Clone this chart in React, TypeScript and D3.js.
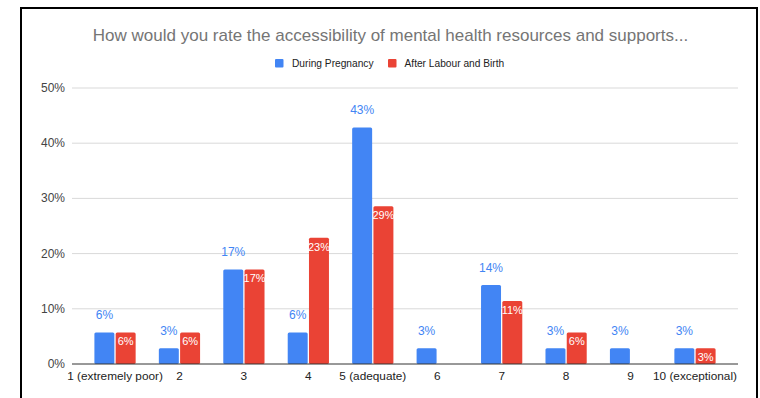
import React from "react";
import * as d3 from "d3";

// Survey ratings 1–10, share of respondents (n = 35)
const categories = [
  "1 (extremely poor)", "2", "3", "4", "5 (adequate)",
  "6", "7", "8", "9", "10 (exceptional)",
];
const duringPregnancy = [5.71, 2.86, 17.14, 5.71, 42.86, 2.86, 14.29, 2.86, 2.86, 2.86];
const afterBirth = [5.71, 5.71, 17.14, 22.86, 28.57, 0, 11.43, 5.71, 0, 2.86];
const seriesNames = ["During Pregnancy", "After Labour and Birth"];
const seriesColors = ["#4285f4", "#ea4335"];
const yTicks = [0, 10, 20, 30, 40, 50];

const W = 760;
const H = 398;
const FONT = "Arial, 'Liberation Sans', Helvetica, sans-serif";

export default function App() {
  const plot = { left: 72, right: 738, top: 88, bottom: 364 };
  const y = d3.scaleLinear().domain([0, 50]).range([plot.bottom, plot.top]);
  const x = d3
    .scaleBand<string>()
    .domain(categories)
    .range([plot.left + 10.8, plot.right - 10.8])
    .paddingInner(0.36)
    .paddingOuter(0.18);
  const inner = d3
    .scaleBand<number>()
    .domain([0, 1])
    .range([0, x.bandwidth()])
    .paddingInner(0.06);
  const fmt = (v: number) => d3.format(".0f")(v) + "%";
  const series = [duringPregnancy, afterBirth];

  return (
    <svg
      width={W}
      height={H}
      style={{ position: "absolute", left: 0, top: 0, background: "#fff" }}
      fontFamily={FONT}
    >
      {/* outer frame */}
      <rect x={21} y={8} width={736} height={H} fill="#fff" stroke="#000" strokeWidth={2} />

      <text x={390.5} y={41} textAnchor="middle" fontSize={17} fill="#757575">
        How would you rate the accessibility of mental health resources and supports...
      </text>

      {/* legend */}
      <g fontSize={10.2} fill="#222">
        <rect x={275} y={59} width={8.5} height={8.5} rx={1} fill={seriesColors[0]} />
        <text x={292} y={67}>{seriesNames[0]}</text>
        <rect x={388} y={59} width={8.5} height={8.5} rx={1} fill={seriesColors[1]} />
        <text x={404.5} y={67}>{seriesNames[1]}</text>
      </g>

      {/* gridlines and y ticks */}
      {yTicks.map((t) => (
        <g key={t}>
          {t > 0 && (
            <line x1={plot.left} x2={plot.right} y1={y(t)} y2={y(t)} stroke="#d9d9d9" strokeWidth={1} />
          )}
          <text x={65} y={y(t) + 4} textAnchor="end" fontSize={12} fill="#444">
            {t}%
          </text>
        </g>
      ))}

      {/* bars */}
      {categories.map((c, i) => (
        <g key={c} transform={`translate(${x(c)},0)`}>
          {series.map((vals, s) => {
            const v = vals[i];
            if (v <= 0) return null;
            const bx = inner(s)!;
            const bw = inner.bandwidth();
            return (
              <rect
                key={s}
                x={bx}
                y={y(v)}
                width={bw}
                height={y(0) - y(v)}
                rx={1.5}
                fill={seriesColors[s]}
              />
            );
          })}
          {series.map((vals, s) => {
            const v = vals[i];
            if (v <= 0) return null;
            const cx = inner(s)! + inner.bandwidth() / 2;
            return s === 0 ? (
              <text key={`l${s}`} x={cx} y={y(v) - 13} textAnchor="middle" fontSize={12} fill={seriesColors[0]}>
                {fmt(v)}
              </text>
            ) : (
              <text key={`l${s}`} x={cx} y={y(v) + 13} textAnchor="middle" fontSize={11} fill="#fff">
                {fmt(v)}
              </text>
            );
          })}
        </g>
      ))}

      {/* baseline */}
      <line x1={plot.left} x2={plot.right} y1={y(0)} y2={y(0)} stroke="#333" strokeWidth={1} />

      {/* category labels */}
      {categories.map((c) => (
        <text
          key={c}
          x={x(c)! + x.bandwidth() / 2}
          y={380}
          textAnchor="middle"
          fontSize={11.8}
          fill="#222"
        >
          {c}
        </text>
      ))}
    </svg>
  );
}
